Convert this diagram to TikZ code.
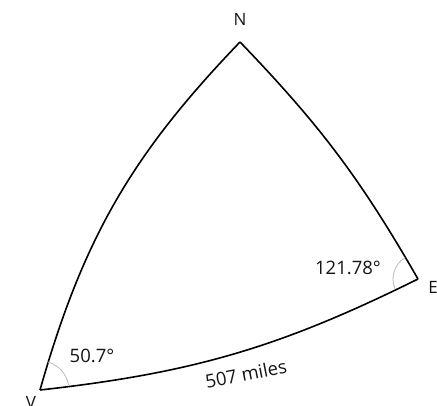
\documentclass[tikz,border=0pt]{standalone}
\usepackage{fontspec}
\setmainfont{Open Sans}
\usetikzlibrary{positioning, calc}
\definecolor{TextBlack}{RGB}{20, 20, 20}

\begin{document}
\begin{tikzpicture}[
    x=1pt, y=1pt,
    side/.style={line width=1.6pt, black},
    anglearc/.style={draw=gray!55, line width=0.8pt},
    vlabel/.style={font=\fontsize{17}{17}\selectfont, text=TextBlack, inner sep=0pt},
    alabel/.style={font=\fontsize{18.5}{18.5}\selectfont, text=TextBlack, inner sep=0pt}
  ]
  \useasboundingbox (0,0) rectangle (437,405);

  % ── Vertices of the spherical triangle ───────────────────────────────────
  \coordinate (V) at ( 40,  15);
  \coordinate (N) at (240, 363);
  \coordinate (E) at (418, 126);

  % ── Curved sides (great-circle arcs) ─────────────────────────────────────
  \draw[side] (V) to[bend right=10] (E);
  \draw[side] (E) to[bend right=7]  (N);
  \draw[side] (N) to[bend right=14] (V);

  % ── Angle marks at V and E ───────────────────────────────────────────────
  \draw[anglearc] ([shift={(10:29)}]V) arc[start angle=10, end angle=74, radius=29];
  \draw[anglearc] ([shift={(121:25)}]E) arc[start angle=121, end angle=203, radius=25];

  % ── Vertex names ─────────────────────────────────────────────────────────
  \node[vlabel] (nN) at (240, 386) {N};
  \node[vlabel] (nV) at ( 31,   3) {V};
  \node[vlabel] (nE) at (433, 118) {E};

  % ── Measured values ──────────────────────────────────────────────────────
  \node[alabel] (aV)   at ( 92,  49) {50.7°};
  \node[alabel] (aE)   at (348, 137) {121.78°};
  \node[alabel, rotate=11] (dVE) at (246, 31) {507 miles};
\end{tikzpicture}
\end{document}
